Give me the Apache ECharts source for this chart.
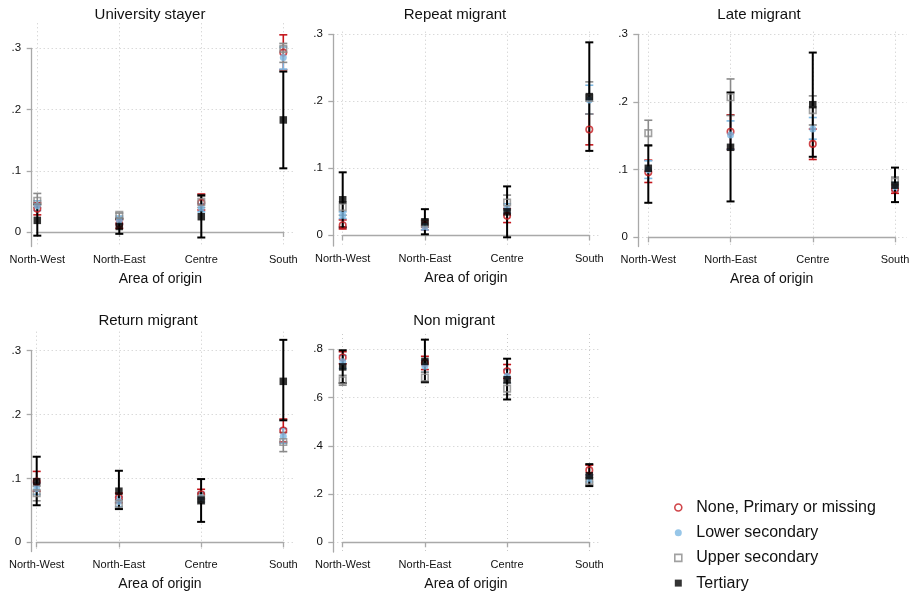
<!DOCTYPE html>
<html>
<head>
<meta charset="utf-8">
<script src="https://cdn.jsdelivr.net/npm/echarts@6/dist/echarts.min.js"></script>
<style>
  html, body { margin: 0; padding: 0; background: #fff; }
  #chart { width: 915px; height: 594px; }
</style>
</head>
<body>
<div id="chart"></div>
<script>
// Categories and groups
const regions = ['North-West', 'North-East', 'Centre', 'South'];
const levels = ['None, Primary or missing', 'Lower secondary', 'Upper secondary', 'Tertiary'];
const panelTitles = ['University stayer', 'Repeat migrant', 'Late migrant', 'Return migrant', 'Non migrant'];
const xAxisTitle = 'Area of origin';

// Tick values and labels on the y axes
const shareTicks = [0, 0.1, 0.2, 0.3];
const shareTickLabels = ['0', '.1', '.2', '.3'];
const nonMigTicks = [0, 0.2, 0.4, 0.6, 0.8];
const nonMigTickLabels = ['0', '.2', '.4', '.6', '.8'];

// Estimates: rows = education level, columns = region
const stayerEst = [[0.038, 0.013, 0.048, 0.293], [0.043, 0.019, 0.039, 0.285], [0.051, 0.028, 0.049, 0.299], [0.019, 0.009, 0.025, 0.183]];
const stayerLo  = [[0.028, 0.006, 0.036, 0.265], [0.035, 0.013, 0.033, 0.266], [0.040, 0.022, 0.040, 0.277], [-0.006, -0.003, -0.009, 0.104]];
const stayerHi  = [[0.048, 0.020, 0.062, 0.322], [0.051, 0.026, 0.046, 0.302], [0.063, 0.031, 0.058, 0.308], [0.045, 0.022, 0.060, 0.262]];

const repeatEst = [[0.015, 0.015, 0.029, 0.158], [0.030, 0.013, 0.040, 0.202], [0.042, 0.018, 0.049, 0.205], [0.053, 0.020, 0.035, 0.207]];
const repeatLo  = [[0.0095, 0.008, 0.019, 0.135], [0.025, 0.008, 0.033, 0.181], [0.030, 0.012, 0.038, 0.181], [0.012, 0.0015, -0.003, 0.126]];
const repeatHi  = [[0.023, 0.022, 0.040, 0.181], [0.035, 0.018, 0.047, 0.224], [0.050, 0.024, 0.060, 0.229], [0.094, 0.039, 0.073, 0.288]];

const lateEst = [[0.096, 0.156, 0.138, 0.071], [0.100, 0.151, 0.160, 0.075], [0.154, 0.207, 0.188, 0.082], [0.102, 0.133, 0.196, 0.077]];
const lateLo  = [[0.081, 0.130, 0.115, 0.065], [0.087, 0.130, 0.145, 0.069], [0.135, 0.180, 0.166, 0.076], [0.051, 0.053, 0.119, 0.052]];
const lateHi  = [[0.114, 0.181, 0.160, 0.078], [0.113, 0.172, 0.177, 0.081], [0.173, 0.234, 0.209, 0.089], [0.136, 0.214, 0.273, 0.103]];

const returnEst = [[0.095, 0.070, 0.075, 0.175], [0.084, 0.064, 0.070, 0.166], [0.077, 0.060, 0.068, 0.157], [0.095, 0.080, 0.066, 0.252]];
const returnLo  = [[0.080, 0.062, 0.068, 0.157], [0.075, 0.056, 0.063, 0.155], [0.065, 0.053, 0.060, 0.142], [0.058, 0.052, 0.032, 0.191]];
const returnHi  = [[0.111, 0.077, 0.083, 0.193], [0.093, 0.071, 0.078, 0.178], [0.088, 0.067, 0.076, 0.172], [0.134, 0.112, 0.099, 0.317]];

const nonMigEst = [[0.766, 0.743, 0.709, 0.299], [0.748, 0.730, 0.688, 0.265], [0.672, 0.683, 0.637, 0.254], [0.727, 0.750, 0.674, 0.276]];
const nonMigLo  = [[0.740, 0.716, 0.680, 0.280], [0.720, 0.705, 0.660, 0.250], [0.651, 0.661, 0.612, 0.240], [0.660, 0.665, 0.592, 0.233]];
const nonMigHi  = [[0.790, 0.771, 0.737, 0.320], [0.775, 0.755, 0.716, 0.280], [0.692, 0.705, 0.660, 0.270], [0.796, 0.840, 0.761, 0.324]];

const panelData = [
  { est: stayerEst, lo: stayerLo, hi: stayerHi, ticks: shareTicks, tickLabels: shareTickLabels },
  { est: repeatEst, lo: repeatLo, hi: repeatHi, ticks: shareTicks, tickLabels: shareTickLabels },
  { est: lateEst,   lo: lateLo,   hi: lateHi,   ticks: shareTicks, tickLabels: shareTickLabels },
  { est: returnEst, lo: returnLo, hi: returnHi, ticks: shareTicks, tickLabels: shareTickLabels },
  { est: nonMigEst, lo: nonMigLo, hi: nonMigHi, ticks: nonMigTicks, tickLabels: nonMigTickLabels }
];

// Panel geometry in pixels: y-axis line x, right edge, plot top/bottom,
// pixel rows of the zero tick and the top tick, x of first/last region, title anchor.
const panelBoxes = [
  { axisX: 31.7,  right: 295,   top: 23.3,  bottom: 246.5, zeroY: 232.0, topTickY: 48.3,  x1: 37.3,  x4: 283.3, titleX: 150, titleY: 7.5 },
  { axisX: 333.3, right: 600,   top: 31.7,  bottom: 246.0, zeroY: 235.3, topTickY: 34.3,  x1: 342.7, x4: 589.3, titleX: 455, titleY: 7.5 },
  { axisX: 638.3, right: 906.7, top: 31.7,  bottom: 246.5, zeroY: 237.3, topTickY: 34.3,  x1: 648.3, x4: 895.0, titleX: 759, titleY: 7.5 },
  { axisX: 31.7,  right: 295,   top: 331.7, bottom: 551.5, zeroY: 542.3, topTickY: 350.7, x1: 36.7,  x4: 283.3, titleX: 148, titleY: 313.5 },
  { axisX: 333.3, right: 600,   top: 334.0, bottom: 552.0, zeroY: 542.3, topTickY: 349.3, x1: 342.7, x4: 589.3, titleX: 454, titleY: 313.5 }
];

// Marker and whisker styles for each education level
const squarePath = 'path://M0 0H10V10H0Z';
const levelColors = ['#c4161c', '#7db8e2', '#8a8a8a', '#000000'];
const levelSymbols = ['circle', 'circle', 'rect', 'rect'];
const legendIcons = ['circle', 'circle', squarePath, squarePath];
const levelSizes = [6.5, 7, 6.5, 7.5];
const levelHollow = [true, false, true, false];
const whiskerWidths = [1.6, 1.6, 1.6, 2];

const axisGray = '#a9a9a9';
const gridGray = '#c9c9c9';
const textColor = '#111';
const fontFamily = 'Liberation Sans, Arial, Helvetica, sans-serif';

const grids = [], xAxes = [], yAxes = [], series = [], titles = [];

panelBoxes.forEach((b, p) => {
  const d = panelData[p];
  const topTick = d.ticks[d.ticks.length - 1];
  const pxPerUnit = (b.zeroY - b.topTickY) / topTick;
  const yMax = (b.zeroY - b.top) / pxPerUnit;
  const yMin = -(b.bottom - b.zeroY) / pxPerUnit;
  const step = d.ticks[1] - d.ticks[0];
  const base = grids.length;

  // background grid: horizontal dotted lines across the full plot width
  grids.push({ left: b.axisX, top: b.topTickY, width: b.right - b.axisX, height: b.zeroY - b.topTickY, outerBoundsMode: 'none' });
  xAxes.push({ gridIndex: base, type: 'value', min: 0, max: 1, show: false });
  yAxes.push({
    gridIndex: base, type: 'value', min: 0, max: topTick, interval: step,
    axisLine: { show: false }, axisTick: { show: false }, axisLabel: { show: false },
    splitLine: { show: true, lineStyle: { color: gridGray, type: [1, 3], width: 1 } }
  });

  // y-axis grid: axis line from the top tick down to the plot bottom
  grids.push({ left: b.axisX, top: b.topTickY, width: b.right - b.axisX, height: b.bottom - b.topTickY, outerBoundsMode: 'none' });
  xAxes.push({ gridIndex: base + 1, type: 'value', min: 0, max: 1, show: false });
  yAxes.push({
    gridIndex: base + 1, type: 'value', min: yMin, max: topTick,
    axisLine: { show: true, lineStyle: { color: axisGray, width: 1.3 } },
    axisTick: { show: true, length: 5, customValues: d.ticks, lineStyle: { color: axisGray, width: 1.3 } },
    axisLabel: {
      show: true, customValues: d.ticks, margin: 10.5, fontSize: 11.5, color: textColor, fontFamily,
      formatter: v => d.tickLabels[d.ticks.findIndex(t => Math.abs(t - v) < 1e-9)] ?? ''
    },
    splitLine: { show: false }
  });

  // data grid: regions at 1..4, spanning from first to last region
  grids.push({ left: b.x1, top: b.top, width: b.x4 - b.x1, height: b.bottom - b.top, outerBoundsMode: 'none' });
  xAxes.push({
    gridIndex: base + 2, type: 'value', min: 1, max: regions.length, interval: 1,
    axisLine: { show: true, lineStyle: { color: axisGray, width: 1.3 } },
    axisTick: { show: true, length: 5, lineStyle: { color: axisGray, width: 1.3 } },
    axisLabel: { margin: 7.5, fontSize: 11, color: textColor, fontFamily, formatter: v => regions[v - 1] || '' },
    splitLine: { show: true, lineStyle: { color: gridGray, type: [1, 3], width: 1 } },
    name: xAxisTitle, nameLocation: 'middle', nameGap: 25.5,
    nameTextStyle: { fontSize: 14, color: textColor, fontFamily }
  });
  yAxes.push({ gridIndex: base + 2, type: 'value', min: yMin, max: yMax, show: false });

  // confidence intervals first, then point estimates on top
  levels.forEach((lev, l) => {
    const color = levelColors[l];
    series.push({
      type: 'custom', name: 'ci-' + p + '-' + l, xAxisIndex: base + 2, yAxisIndex: base + 2,
      data: regions.map((r, i) => [i + 1, d.lo[l][i], d.hi[l][i]]),
      renderItem: (params, api) => {
        const x = api.value(0);
        const hiPt = api.coord([x, api.value(2)]);
        const loPt = api.coord([x, api.value(1)]);
        const hw = 4;
        const style = { stroke: color, lineWidth: whiskerWidths[l], fill: null };
        return {
          type: 'group',
          children: [
            { type: 'line', shape: { x1: hiPt[0], y1: hiPt[1], x2: loPt[0], y2: loPt[1] }, style },
            { type: 'line', shape: { x1: hiPt[0] - hw, y1: hiPt[1], x2: hiPt[0] + hw, y2: hiPt[1] }, style },
            { type: 'line', shape: { x1: loPt[0] - hw, y1: loPt[1], x2: loPt[0] + hw, y2: loPt[1] }, style }
          ]
        };
      },
      z: 3
    });
  });
  levels.forEach((lev, l) => {
    series.push({
      type: 'scatter', name: lev, xAxisIndex: base + 2, yAxisIndex: base + 2,
      data: regions.map((r, i) => [i + 1, d.est[l][i]]),
      symbol: levelSymbols[l], symbolSize: levelSizes[l],
      itemStyle: levelHollow[l]
        ? { color: 'rgba(255,255,255,0)', borderColor: levelColors[l], borderWidth: 1.6 }
        : { color: levelColors[l], borderWidth: 0 },
      z: 4
    });
  });

  titles.push({
    text: panelTitles[p], left: b.titleX, top: b.titleY, textAlign: 'center', padding: 0,
    textStyle: { fontSize: 15, fontWeight: 'normal', color: textColor, fontFamily }
  });
});

const legendItems = levels.map((lev, l) => ({
  name: lev,
  icon: legendIcons[l],
  itemStyle: levelHollow[l]
    ? { color: '#fff', borderColor: levelColors[l], borderWidth: 1.6 }
    : { color: levelColors[l], borderWidth: 0 }
}));

const chart = echarts.init(document.getElementById('chart'), null, { renderer: 'canvas' });
chart.setOption({
  animation: false,
  backgroundColor: '#fff',
  title: titles,
  grid: grids,
  xAxis: xAxes,
  yAxis: yAxes,
  series: series,
  legend: {
    data: legendItems, orient: 'vertical', left: 674, top: 499.5, padding: 0,
    itemWidth: 26, itemHeight: 7, itemGap: 9.2, selectedMode: false, symbolKeepAspect: true,
    textStyle: { fontSize: 16, color: textColor, fontFamily }
  }
});
</script>
</body>
</html>
